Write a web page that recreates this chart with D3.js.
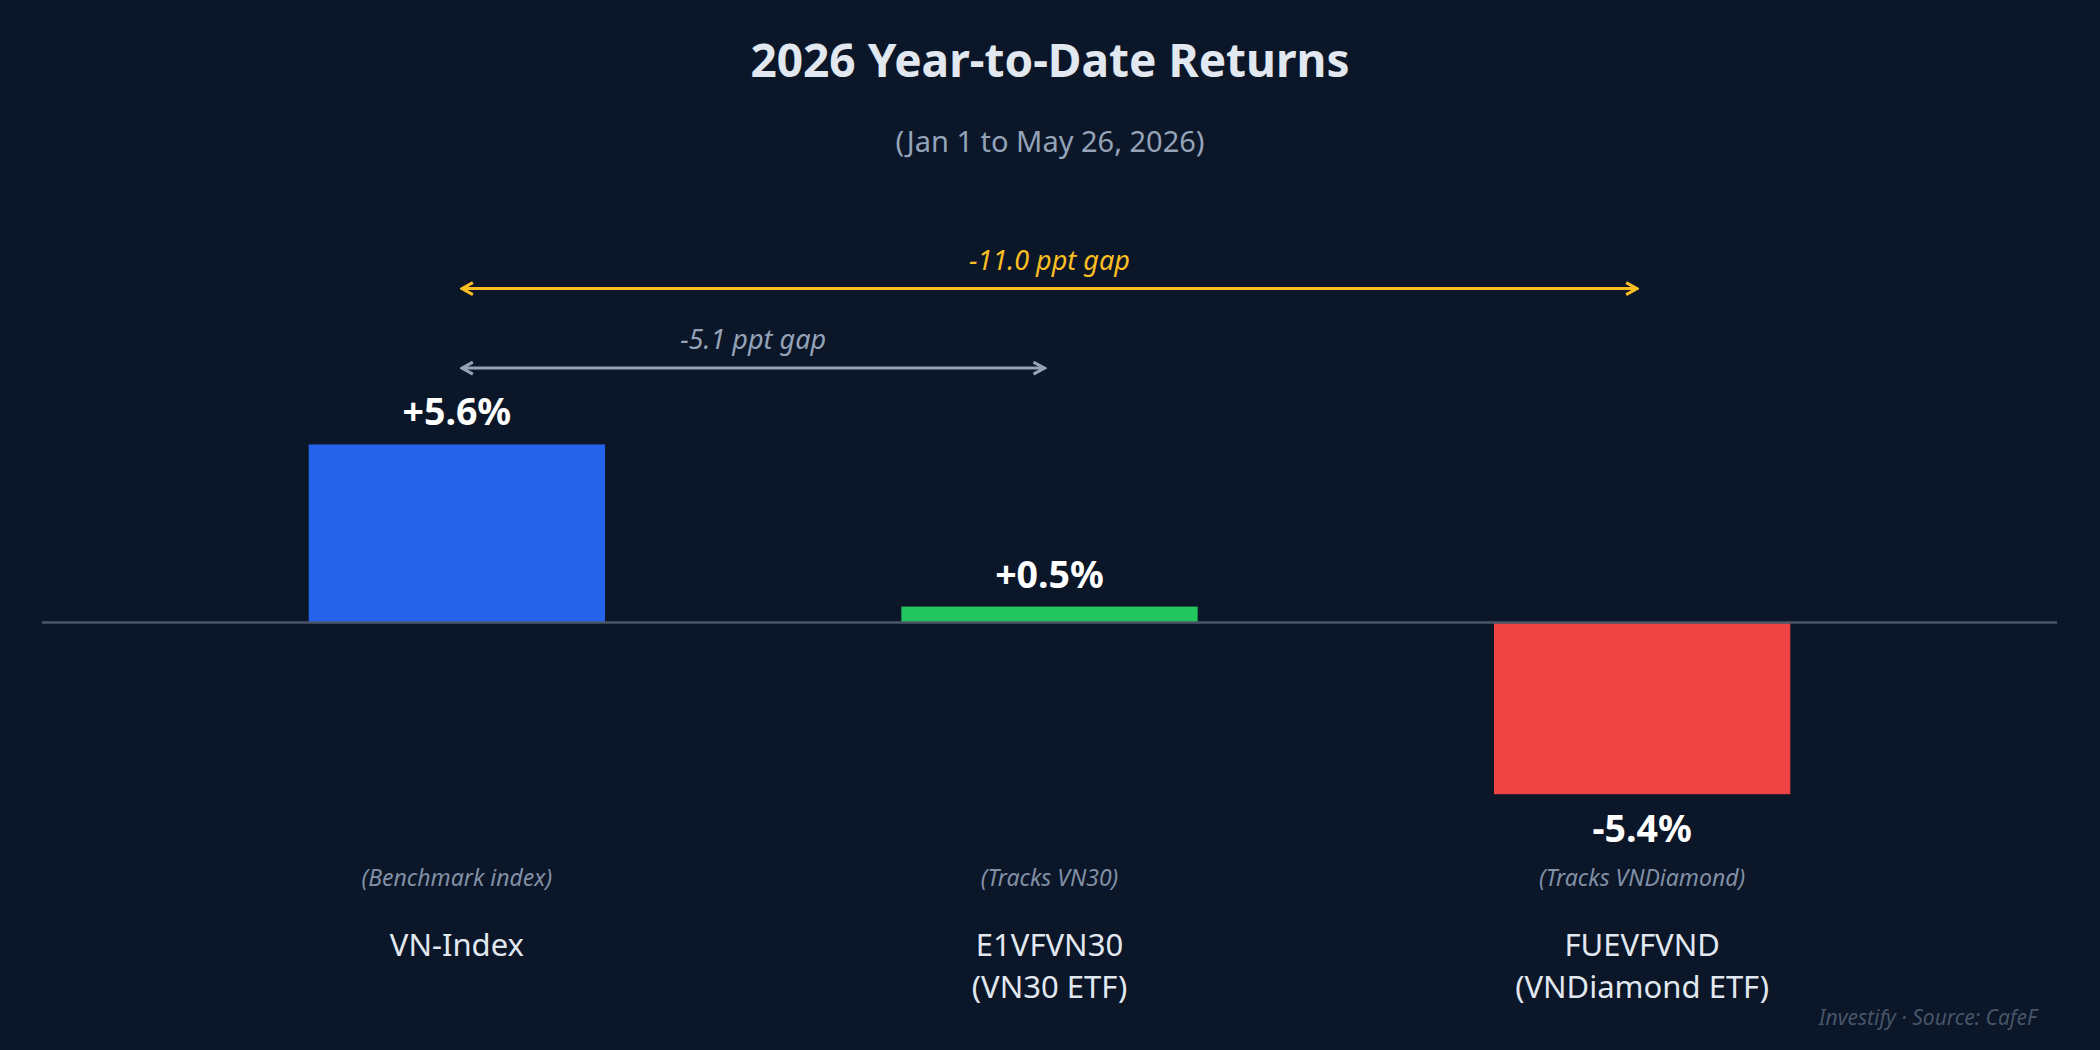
<!DOCTYPE html>
<html>
<head>
<meta charset="utf-8">
<script src="https://cdn.jsdelivr.net/npm/d3@7"></script>
<style>
  html, body { margin: 0; padding: 0; background: #0b1628; }
  svg { display: block; }
</style>
</head>
<body>
<svg id="chart" width="2100" height="1050"></svg>
<script>
(function() {

  // Data
  const funds = ["VN-Index", "E1VFVN30", "FUEVFVND"];
  const fundNames = [["VN-Index"], ["E1VFVN30", "(VN30 ETF)"], ["FUEVFVND", "(VNDiamond ETF)"]];
  const fundNotes = ["(Benchmark index)", "(Tracks VN30)", "(Tracks VNDiamond)"];
  const ytdReturns = [5.6, 0.5, -5.4];
  const barColors = ["#2563eb", "#22c55e", "#ef4444"];

  // Gap annotations: from fund, to fund, height on value axis, label
  const gapFrom = ["VN-Index", "VN-Index"];
  const gapTo = ["FUEVFVND", "E1VFVN30"];
  const gapLevel = [10.5, 8.0];
  const gapLabels = ["-11.0 ppt gap", "-5.1 ppt gap"];
  const gapColors = ["#fbbf24", "#94a3b8"];

  const BG = "#0b1628";
  const INK = "#e2e8f0";
  const MUTED = "#94a3b8";
  const FONT = "'Noto Sans', 'Open Sans', sans-serif";

  const width = 2100;
  const height = 1050;

  const svg = d3.select("#chart");

  svg.append("rect")
    .attr("width", width).attr("height", height)
    .attr("fill", BG);

  // Scales
  const x = d3.scaleBand()
    .domain(funds)
    .range([42, 2057])
    .paddingInner(0.5)
    .paddingOuter(0.45);

  const y = d3.scaleLinear()
    .domain([-8, 13])
    .range([876.9, 209.1]);

  const cx = (name) => x(name) + x.bandwidth() / 2;

  // Title
  svg.append("text")
    .attr("x", width / 2).attr("y", 77)
    .attr("text-anchor", "middle")
    .attr("font-family", FONT)
    .attr("font-size", 46)
    .attr("font-weight", 700)
    .attr("fill", INK)
    .text("2026 Year-to-Date Returns");

  svg.append("text")
    .attr("x", width / 2).attr("y", 151.5)
    .attr("text-anchor", "middle")
    .attr("font-family", FONT)
    .attr("font-size", 29)
    .attr("fill", MUTED)
    .text("(Jan 1 to May 26, 2026)");

  // Bars
  const rows = funds.map((f, i) => ({
    name: f, value: ytdReturns[i], color: barColors[i],
    lines: fundNames[i], note: fundNotes[i]
  }));

  svg.selectAll("rect.bar")
    .data(rows)
    .join("rect")
    .attr("class", "bar")
    .attr("x", d => x(d.name))
    .attr("width", x.bandwidth())
    .attr("y", d => y(Math.max(0, d.value)))
    .attr("height", d => Math.abs(y(d.value) - y(0)))
    .attr("fill", d => d.color);

  // Zero line
  svg.append("line")
    .attr("x1", x.range()[0]).attr("x2", x.range()[1])
    .attr("y1", y(0)).attr("y2", y(0))
    .attr("stroke", "#4b5768")
    .attr("stroke-width", 2.5);

  // Value labels
  svg.selectAll("text.value")
    .data(rows)
    .join("text")
    .attr("class", "value")
    .attr("x", d => cx(d.name))
    .attr("y", d => d.value >= 0 ? y(d.value) - 19 : y(d.value) + 47.5)
    .attr("text-anchor", "middle")
    .attr("font-family", FONT)
    .attr("font-size", 37.5)
    .attr("font-weight", 700)
    .attr("fill", "#ffffff")
    .text(d => (d.value > 0 ? "+" : "") + d.value.toFixed(1) + "%");

  // Notes under the chart
  svg.selectAll("text.note")
    .data(rows)
    .join("text")
    .attr("class", "note")
    .attr("x", d => cx(d.name))
    .attr("y", 886)
    .attr("text-anchor", "middle")
    .attr("font-family", FONT)
    .attr("font-size", 23)
    .attr("font-style", "italic")
    .attr("fill", "#8190a6")
    .text(d => d.note);

  // Fund names
  const names = svg.selectAll("text.name")
    .data(rows)
    .join("text")
    .attr("class", "name")
    .attr("text-anchor", "middle")
    .attr("font-family", FONT)
    .attr("font-size", 31)
    .attr("fill", INK);

  names.selectAll("tspan")
    .data(d => d.lines.map(l => ({ line: l, name: d.name })))
    .join("tspan")
    .attr("x", d => cx(d.name))
    .attr("y", (d, i) => 956 + i * 42)
    .text(d => d.line);

  // Arrow markers
  const defs = svg.append("defs");
  gapColors.forEach((c, i) => {
    ["start", "end"].forEach(kind => {
      defs.append("marker")
        .attr("id", `arrow-${kind}-${i}`)
        .attr("markerUnits", "userSpaceOnUse")
        .attr("viewBox", "-14 -8 16 16")
        .attr("refX", 0).attr("refY", 0)
        .attr("markerWidth", 16).attr("markerHeight", 16)
        .attr("orient", kind === "end" ? "auto" : "auto-start-reverse")
        .append("path")
        .attr("d", "M-11,-6 L0,0 L-11,6")
        .attr("fill", "none")
        .attr("stroke", c)
        .attr("stroke-width", 3)
        .attr("stroke-linejoin", "miter");
    });
  });

  // Gap arrows
  gapLabels.forEach((label, i) => {
    const x1 = cx(gapFrom[i]) + 5;
    const x2 = cx(gapTo[i]) - 5;
    const yy = y(gapLevel[i]);

    svg.append("line")
      .attr("x1", x1).attr("x2", x2)
      .attr("y1", yy).attr("y2", yy)
      .attr("stroke", gapColors[i])
      .attr("stroke-width", 3)
      .attr("marker-start", `url(#arrow-start-${i})`)
      .attr("marker-end", `url(#arrow-end-${i})`);

    svg.append("text")
      .attr("x", (cx(gapFrom[i]) + cx(gapTo[i])) / 2)
      .attr("y", yy - 19)
      .attr("text-anchor", "middle")
      .attr("font-family", FONT)
      .attr("font-size", 27)
      .attr("font-style", "italic")
      .attr("fill", gapColors[i])
      .text(label);
  });

  // Footer
  svg.append("text")
    .attr("x", 2037).attr("y", 1025)
    .attr("text-anchor", "end")
    .attr("font-family", FONT)
    .attr("font-size", 21)
    .attr("font-style", "italic")
    .attr("fill", "#475569")
    .text("Investify · Source: CafeF");

})();
</script>
</body>
</html>
